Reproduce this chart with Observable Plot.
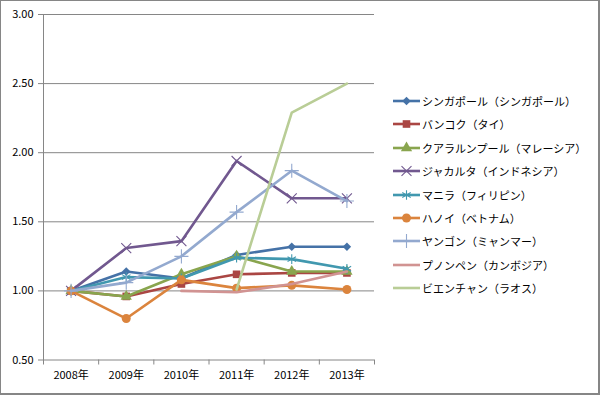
<!DOCTYPE html>
<html><head><meta charset="utf-8">
<script src="https://cdn.jsdelivr.net/npm/d3@7"></script>
<script src="https://cdn.jsdelivr.net/npm/@observablehq/plot@0.6"></script>
<style>
body{margin:0;background:#fff;font-family:"Noto Sans CJK JP","Noto Sans",sans-serif}
#wrap{position:relative;width:600px;height:395px;overflow:hidden}
#border{position:absolute;left:0;top:0;width:597px;height:392px;border:1px solid #868686;border-right-width:2px;border-bottom-width:2px;pointer-events:none}
#legend{position:absolute;left:0;top:0;width:600px;height:395px;pointer-events:none}
.item{position:absolute;left:393px;height:16px;display:flex;align-items:center;font-size:11px;color:#000;white-space:nowrap}
.item svg{display:block;margin-right:1px}
</style></head><body>
<div id="wrap"><div id="legend"></div><div id="border"></div></div>
<script>
// ---- data ----
const years = [2008, 2009, 2010, 2011, 2012, 2013];
const yTicks = [0.5, 1.0, 1.5, 2.0, 2.5, 3.0];
const seriesNames = [
  "シンガポール（シンガポール）",
  "バンコク（タイ）",
  "クアラルンプール（マレーシア）",
  "ジャカルタ（インドネシア）",
  "マニラ（フィリピン）",
  "ハノイ（ベトナム）",
  "ヤンゴン（ミャンマー）",
  "プノンペン（カンボジア）",
  "ビエンチャン（ラオス）"
];
const singapore  = [1.00, 1.14, 1.09, 1.26, 1.32, 1.32];
const bangkok    = [1.00, 0.96, 1.05, 1.12, 1.13, 1.13];
const kualaLumpur= [1.00, 0.96, 1.12, 1.25, 1.14, 1.14];
const jakarta    = [1.00, 1.31, 1.36, 1.94, 1.67, 1.67];
const manila     = [1.00, 1.10, 1.09, 1.24, 1.23, 1.16];
const hanoi      = [1.00, 0.80, 1.08, 1.02, 1.04, 1.01];
const yangon     = [1.00, 1.06, 1.25, 1.57, 1.87, 1.65];
const phnomPenh  = [null, null, 1.00, 0.99, 1.05, 1.14];
const vientiane  = [null, null, null, 1.01, 2.29, 2.50];
const seriesValues = [singapore, bangkok, kualaLumpur, jakarta, manila, hanoi, yangon, phnomPenh, vientiane];
const colors = ["#4572A7","#AA4643","#89A54E","#71588F","#4198AF","#DB843D","#93A9CF","#D19392","#B9CD96"];
const symbols = ["diamond2","square","triangle","times","asterisk","circle","plus",null,null];
const filled = [true,true,true,false,false,true,false,false,false];
const symbolR = [3.8,4.3,4.2,4.6,4.6,4.5,4.6,0,0];

// ---- build ----
const gray = "#868686";
const bounds = years.map(y => y - 0.5).concat([years[years.length-1] + 0.5]);
const marks = [
  Plot.gridY({ticks: yTicks, stroke: gray, strokeOpacity: 1}),
  Plot.frame({anchor: "left", stroke: gray}),
  Plot.axisY({ticks: yTicks, tickFormat: d3.format(".2f"), tickSize: 5, tickPadding: 5, stroke: gray, fill: "#000", fontSize: 11, label: null}),
  Plot.axisX({ticks: bounds, tickFormat: () => "", tickSize: 5, stroke: gray, label: null}),
  Plot.axisX({ticks: years, tickFormat: d => d + "年", tickSize: 0, tickPadding: 11, fill: "#000", fontSize: 11, label: null})
];
seriesNames.forEach((name, i) => {
  const rows = years.map((yr, j) => ({year: yr, value: seriesValues[i][j]})).filter(d => d.value != null);
  marks.push(Plot.line(rows, {x: "year", y: "value", stroke: colors[i], strokeWidth: 2.6, strokeLinejoin: "round"}));
  if (symbols[i]) {
    marks.push(Plot.dot(rows, filled[i]
      ? {x: "year", y: "value", symbol: symbols[i], r: symbolR[i], fill: colors[i], stroke: "none"}
      : {x: "year", y: "value", symbol: symbols[i], r: symbolR[i], fill: "none", stroke: colors[i], strokeWidth: 1.1}));
  }
});

const chart = Plot.plot({
  width: 600, height: 395,
  marginLeft: 43, marginRight: 226, marginTop: 14, marginBottom: 35.5,
  style: {fontFamily: '"Noto Sans CJK JP","Noto Sans",sans-serif', fontSize: "11px", background: "#fff", overflow: "visible"},
  x: {type: "linear", domain: [bounds[0], bounds[bounds.length-1]], axis: null},
  y: {type: "linear", domain: [yTicks[0], yTicks[yTicks.length-1]], axis: null},
  marks
});
document.getElementById("wrap").prepend(chart);

// ---- legend ----
const symMap = {diamond2: d3.symbolDiamond2, square: d3.symbolSquare, triangle: d3.symbolTriangle, times: d3.symbolTimes, asterisk: d3.symbolAsterisk, circle: d3.symbolCircle, plus: d3.symbolPlus};
const legend = document.getElementById("legend");
seriesNames.forEach((name, i) => {
  const item = document.createElement("div");
  item.className = "item";
  item.style.top = (100.7 + 23.45 * i - 8) + "px";
  let svg = `<svg width="28" height="16"><line x1="0" x2="27" y1="8" y2="8" stroke="${colors[i]}" stroke-width="2.6"/>`;
  if (symbols[i]) {
    const p = d3.symbol(symMap[symbols[i]], symbolR[i] * symbolR[i] * Math.PI)();
    svg += filled[i]
      ? `<path transform="translate(13.5,8)" d="${p}" fill="${colors[i]}"/>`
      : `<path transform="translate(13.5,8)" d="${p}" fill="none" stroke="${colors[i]}" stroke-width="1.1"/>`;
  }
  svg += `</svg>`;
  item.innerHTML = svg + `<span>${name}</span>`;
  legend.appendChild(item);
});
</script>
</body></html>
